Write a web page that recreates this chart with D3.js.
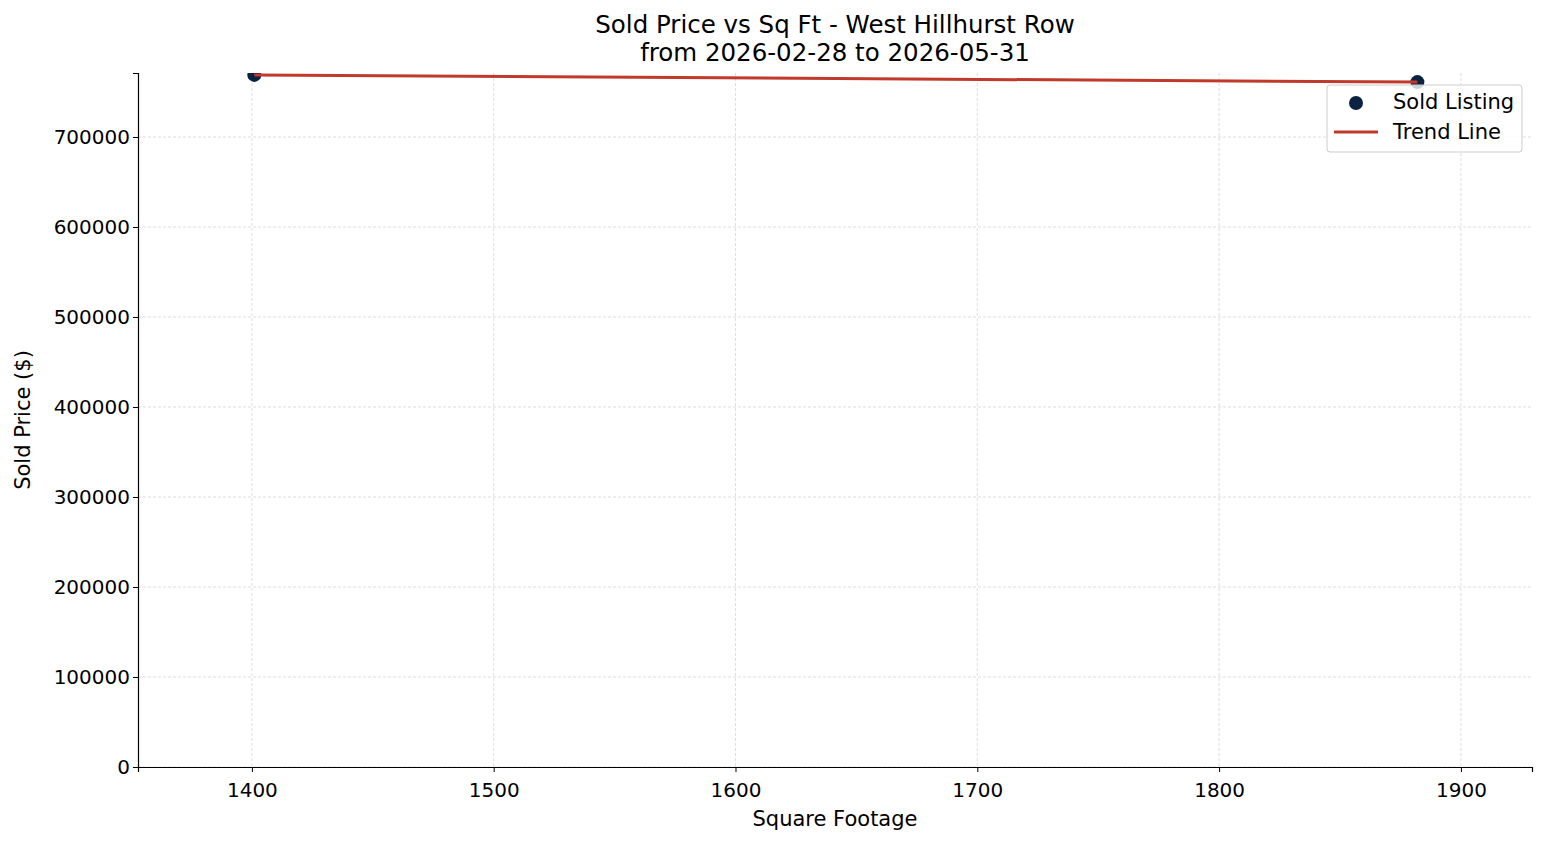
<!DOCTYPE html><html><head><meta charset="utf-8"><script src="https://cdn.jsdelivr.net/npm/d3@7"></script>
<style>body{margin:0;background:#fff}text{font-family:"DejaVu Sans",sans-serif}</style></head><body><svg id="c" width="1547" height="845"></svg><script>
const sqft=[1401,1882];
const price=[769000,761000];
const trendX=[1401,1882];
const trendY=[769000,761000];
const xTicks=[1400,1500,1600,1700,1800,1900];
const yTicks=[0,100000,200000,300000,400000,500000,600000,700000];
const svg=d3.select("#c");
const L=138,R=1532,T=73,B=767;
const x=d3.scaleLinear().domain([1352.9,1929.4]).range([L,R]);
const y=d3.scaleLinear().domain([0,771111]).range([B,T]);
const g=svg.append("g");
g.selectAll(".vg").data(xTicks).enter().append("line").attr("x1",d=>x(d)).attr("x2",d=>x(d)).attr("y1",T).attr("y2",B).attr("stroke","#ccc").attr("stroke-width",0.8).attr("stroke-dasharray","3,2").attr("opacity",0.8);
g.selectAll(".hg").data(yTicks).enter().append("line").attr("x1",L).attr("x2",R).attr("y1",d=>y(d)).attr("y2",d=>y(d)).attr("stroke","#ccc").attr("stroke-width",0.8).attr("stroke-dasharray","3,2").attr("opacity",0.8);
svg.append("defs").append("clipPath").attr("id","cl").append("rect").attr("x",L).attr("y",T).attr("width",R-L).attr("height",B-T);
const p=svg.append("g").attr("clip-path","url(#cl)");
p.selectAll("circle").data(sqft).enter().append("circle").attr("cx",d=>x(d)).attr("cy",(d,i)=>y(price[i])).attr("r",7).attr("fill","#0b2240");
p.append("path").datum(trendX.map((d,i)=>[d,trendY[i]])).attr("d",d3.line().x(d=>x(d[0])).y(d=>y(d[1]))).attr("stroke","#c0392b").attr("stroke-width",3).attr("fill","none");
const xa=svg.append("g").attr("transform",`translate(0,${B})`).call(d3.axisBottom(x).tickValues(xTicks).tickFormat(d3.format("d")).tickSizeOuter(0).tickSize(5));
const ya=svg.append("g").attr("transform",`translate(${L},0)`).call(d3.axisLeft(y).tickValues(yTicks).tickFormat(d3.format("d")).tickSizeOuter(0).tickSize(5));
[xa,ya].forEach(a=>{a.attr("font-size",null);a.selectAll("text").style("font-size","20px").style("font-family","DejaVu Sans").attr("fill","#000");a.selectAll(".domain").attr("stroke","#000").attr("stroke-width",1.2);});
xa.selectAll("text").attr("dy","1.1em");
svg.append("text").attr("x",835).attr("y",826).attr("text-anchor","middle").style("font-size","21px").text("Square Footage");
svg.append("text").attr("transform","translate(30,420) rotate(-90)").attr("text-anchor","middle").style("font-size","21px").text("Sold Price ($)");
svg.append("text").attr("x",835).attr("y",33).attr("text-anchor","middle").style("font-size","24.5px").text("Sold Price vs Sq Ft - West Hillhurst Row");
svg.append("text").attr("x",835).attr("y",61).attr("text-anchor","middle").style("font-size","24.5px").text("from 2026-02-28 to 2026-05-31");
const lg=svg.append("g");
lg.append("rect").attr("x",1327).attr("y",85).attr("width",195).attr("height",67).attr("rx",3).attr("fill","#fff").attr("fill-opacity",0.8).attr("stroke","#ccc");
lg.append("circle").attr("cx",1356).attr("cy",103).attr("r",7).attr("fill","#0b2240");
lg.append("line").attr("x1",1334).attr("x2",1378).attr("y1",132).attr("y2",132).attr("stroke","#c0392b").attr("stroke-width",3);
lg.append("text").attr("x",1393).attr("y",109).style("font-size","21px").text("Sold Listing");
lg.append("text").attr("x",1393).attr("y",139).style("font-size","21px").text("Trend Line");
</script></body></html>
